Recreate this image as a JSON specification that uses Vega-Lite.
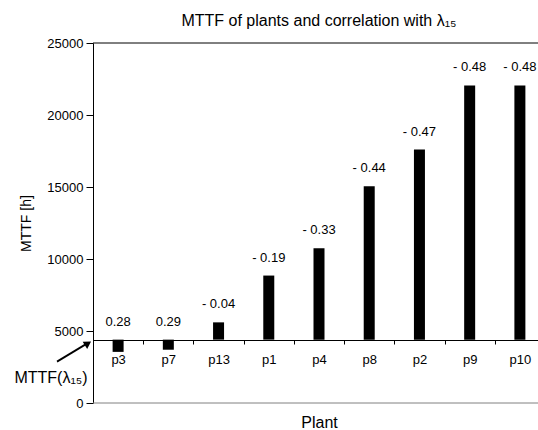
{
  "$schema": "https://vega.github.io/schema/vega-lite/v6.json",
  "width": 452,
  "height": 360,
  "autosize": "none",
  "padding": {"left": 93, "top": 43, "right": -7, "bottom": 27},
  "background": "white",
  "config": {
    "view": {"stroke": null},
    "font": "Liberation Sans",
    "axis": {
      "grid": false,
      "labelColor": "#000",
      "titleColor": "#000",
      "domainColor": "#000",
      "tickColor": "#000",
      "labelFont": "Liberation Sans",
      "titleFont": "Liberation Sans",
      "titleFontWeight": "normal"
    }
  },
  "title": {
    "text": "MTTF of plants and correlation with λ₁₅",
    "fontSize": 16,
    "fontWeight": "normal",
    "color": "#000",
    "font": "Liberation Sans",
    "frame": "group",
    "anchor": "middle",
    "baseline": "alphabetic",
    "offset": 18,
    "dy": 23
  },
  "data": {
    "values": [
      {"plant": "p3", "mttf": 3550, "r": 0.28},
      {"plant": "p7", "mttf": 3700, "r": 0.29},
      {"plant": "p13", "mttf": 5600, "r": -0.04},
      {"plant": "p1", "mttf": 8850, "r": -0.19},
      {"plant": "p4", "mttf": 10750, "r": -0.33},
      {"plant": "p8", "mttf": 15050, "r": -0.44},
      {"plant": "p2", "mttf": 17600, "r": -0.47},
      {"plant": "p9", "mttf": 22050, "r": -0.48},
      {"plant": "p10", "mttf": 22050, "r": -0.48}
    ]
  },
  "layer": [
    {
      "mark": {"type": "bar", "size": 11, "color": "#000"},
      "encoding": {
        "x": {
          "field": "plant",
          "type": "nominal",
          "scale": {
            "domain": ["p3", "p7", "p13", "p1", "p4", "p8", "p2", "p9", "p10"],
            "paddingInner": 0,
            "paddingOuter": 0
          },
          "axis": {
            "title": "Plant",
            "orient": "bottom",
            "offset": -63,
            "domainWidth": 1,
            "tickBand": "extent",
            "tickSize": 4,
            "labelAngle": 0,
            "labelFontSize": 13,
            "labelPadding": 9,
            "titleFontSize": 16,
            "titleBaseline": "alphabetic",
            "titleY": 87
          }
        },
        "y": {
          "field": "mttf",
          "type": "quantitative",
          "scale": {"domain": [0, 25000], "nice": false},
          "axis": {
            "title": "MTTF [h]",
            "values": [0, 5000, 10000, 15000, 20000, 25000],
            "format": "d",
            "tickSize": 7,
            "labelPadding": 3,
            "labelFontSize": 13,
            "titleFontSize": 14,
            "titlePadding": 13
          }
        },
        "y2": {"datum": 4400}
      }
    },
    {
      "data": {"values": [{}]},
      "mark": {"type": "rule", "color": "#000"},
      "encoding": {"y": {"datum": 25000, "title": "MTTF [h]"}}
    },
    {
      "data": {"values": [{}]},
      "mark": {"type": "rule", "color": "#808080"},
      "encoding": {"y": {"datum": 0, "title": "MTTF [h]"}}
    },
    {
      "transform": [
        {"calculate": "max(datum.mttf, 4400)", "as": "label_at"},
        {"calculate": "(datum.r < 0 ? '- ' : '') + format(abs(datum.r), '.2f')", "as": "r_text"}
      ],
      "mark": {"type": "text", "fontSize": 13, "baseline": "alphabetic", "dy": -14, "color": "#000"},
      "encoding": {
        "x": {"field": "plant", "type": "nominal", "title": "Plant"},
        "y": {"field": "label_at", "type": "quantitative", "title": "MTTF [h]"},
        "text": {"field": "r_text"}
      }
    },
    {
      "data": {"values": [{}]},
      "mark": {"type": "rule", "color": "#000", "strokeWidth": 1.8, "xOffset": -36, "yOffset": 22, "x2Offset": -7, "y2Offset": 4.5},
      "encoding": {
        "x": {"datum": "p3", "bandPosition": 0},
        "x2": {"datum": "p3", "bandPosition": 0},
        "y": {"datum": 4400, "title": "MTTF [h]"},
        "y2": {"datum": 4400}
      }
    },
    {
      "data": {"values": [{}]},
      "mark": {"type": "point", "shape": "triangle-up", "filled": true, "opacity": 1, "color": "#000", "size": 70, "angle": 57.5, "xOffset": -5, "yOffset": 3.8},
      "encoding": {
        "x": {"datum": "p3", "bandPosition": 0},
        "y": {"datum": 4400, "title": "MTTF [h]"}
      }
    },
    {
      "data": {"values": [{}]},
      "mark": {"type": "text", "fontSize": 16, "fontWeight": "normal", "align": "center", "baseline": "alphabetic", "dx": -42, "dy": 43, "color": "#000"},
      "encoding": {
        "x": {"datum": "p3", "bandPosition": 0},
        "y": {"datum": 4400, "title": "MTTF [h]"},
        "text": {"value": "MTTF(λ₁₅)"}
      }
    }
  ]
}
